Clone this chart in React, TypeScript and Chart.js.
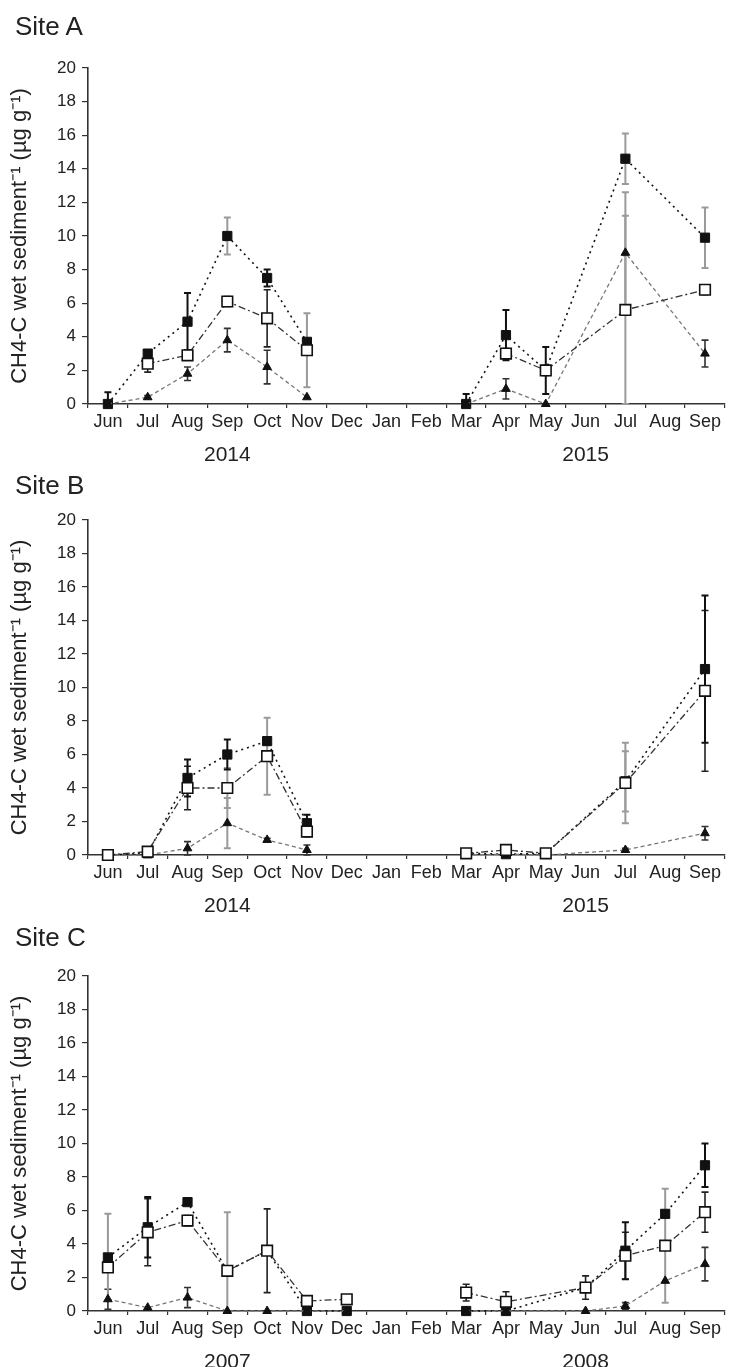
import React, { useEffect, useRef } from 'react';
import { Chart, registerables } from 'chart.js';

Chart.register(...registerables);

// ---------- categories & tick labels ----------
const months = ['Jun', 'Jul', 'Aug', 'Sep', 'Oct', 'Nov', 'Dec', 'Jan', 'Feb', 'Mar', 'Apr', 'May', 'Jun', 'Jul', 'Aug', 'Sep'];
const yearsAB = ['', '', '', '2014', '', '', '', '', '', '', '', '', '2015', '', '', ''];
const yearsC = ['', '', '', '2007', '', '', '', '', '', '', '', '', '2008', '', '', ''];
const yAxisTitle = 'CH4-C wet sediment⁻¹ (µg g⁻¹)';
const siteNames = ['Site A', 'Site B', 'Site C'];

// ---------- Site A ----------
const aFilled = [0, 3.0, 4.9, 10.0, 7.5, 3.7, null, null, null, 0, 4.1, 2.0, null, 14.6, null, 9.9];
const aFilledErr = [0.7, 0.2, 1.7, 1.1, 0.5, 0, 0, 0, 0, 0.6, 1.5, 1.4, 0, 1.5, 0, 1.8];
const aOpen = [null, 2.4, 2.9, 6.1, 5.1, 3.2, null, null, null, null, 3.0, 2.0, null, 5.6, null, 6.8];
const aOpenErr = [0, 0.5, 0.3, 0.3, 1.7, 2.2, 0, 0, 0, 0, 0.3, 0.3, 0, 5.6, 0, 0.3];
const aTri = [0, 0.4, 1.8, 3.8, 2.2, 0.4, null, null, null, 0, 0.9, 0, null, 9.0, null, 3.0];
const aTriErr = [0, 0.1, 0.4, 0.7, 1.0, 0, 0, 0, 0, 0, 0.6, 0, 0, 3.6, 0, 0.8];

// ---------- Site B ----------
const bFilled = [0, 0.1, 4.6, 6.0, 6.8, 1.9, null, null, null, 0.1, 0.05, 0.1, null, 4.4, null, 11.1];
const bFilledErr = [0, 0, 1.1, 0.9, 0.2, 0.5, 0, 0, 0, 0, 0, 0, 0, 1.8, 0, 4.4];
const bOpen = [0, 0.2, 4.0, 4.0, 5.9, 1.4, null, null, null, 0.1, 0.3, 0.1, null, 4.3, null, 9.8];
const bOpenErr = [0, 0, 1.3, 1.2, 2.3, 0.3, 0, 0, 0, 0.1, 0.1, 0.1, 0, 2.4, 0, 4.8];
const bTri = [0, 0, 0.4, 1.9, 0.9, 0.3, null, null, null, 0, 0.05, 0, null, 0.3, null, 1.3];
const bTriErr = [0, 0, 0.4, 1.5, 0.1, 0.3, 0, 0, 0, 0, 0, 0, 0, 0.1, 0, 0.4];

// ---------- Site C ----------
const cFilled = [3.2, 5.0, 6.5, 2.4, 3.6, 0, 0, null, null, 0, 0, null, 1.4, 3.6, 5.8, 8.7];
const cFilledErr = [2.6, 1.8, 0, 0, 0, 0, 0, 0, 0, 0, 0, 0, 0, 1.7, 0, 1.3];
const cOpen = [2.6, 4.7, 5.4, 2.4, 3.6, 0.6, 0.7, null, null, 1.1, 0.55, null, 1.4, 3.3, 3.9, 5.9];
const cOpenErr = [0, 2.0, 0.3, 3.5, 2.5, 0, 0, 0, 0, 0.5, 0.6, 0, 0.7, 1.4, 3.4, 1.2];
const cTri = [0.7, 0.2, 0.8, 0, 0, 0, 0, null, null, 0, 0, null, 0, 0.3, 1.8, 2.8];
const cTriErr = [0.6, 0, 0.6, 0, 0, 0, 0, 0, 0, 0, 0, 0, 0, 0.2, 0, 1.0];

// which error bars are drawn in light grey (style only)
const greyA = { filled: [3, 13, 15], open: [5, 13], tri: [13] };
const greyB = { filled: [13], open: [3, 4, 13], tri: [3] };
const greyC = { filled: [0], open: [3, 14], tri: [] as number[] };

const FONT = '"Liberation Sans", Arial, Helvetica, sans-serif';
const TEXT = '#222';
const AXIS = '#333';
const GREY = '#9a9a9a';

const errorBarPlugin = {
  id: 'errorBarsPlugin',
  beforeDatasetsDraw(chart: any) {
    const { ctx, chartArea } = chart;
    const yScale = chart.scales.y;
    ctx.save();
    chart.data.datasets.forEach((ds: any, i: number) => {
      const errs: number[] | undefined = ds.errors;
      if (!errs) return;
      const meta = chart.getDatasetMeta(i);
      ds.data.forEach((v: number | null, j: number) => {
        const e = errs[j];
        if (v === null || v === undefined || !e) return;
        const pt = meta.data[j];
        if (!pt) return;
        const grey = ds.greyIdx && ds.greyIdx.indexOf(j) >= 0;
        const x = pt.x;
        const yTop = yScale.getPixelForValue(v + e);
        const rawBot = yScale.getPixelForValue(v - e);
        const yBot = Math.min(rawBot, chartArea.bottom);
        ctx.strokeStyle = grey ? GREY : ds.errColor;
        ctx.lineWidth = grey ? 2 : ds.errWidth;
        ctx.setLineDash([]);
        ctx.beginPath();
        ctx.moveTo(x, yTop);
        ctx.lineTo(x, yBot);
        ctx.moveTo(x - 3.5, yTop);
        ctx.lineTo(x + 3.5, yTop);
        if (rawBot <= chartArea.bottom) {
          ctx.moveTo(x - 3.5, yBot);
          ctx.lineTo(x + 3.5, yBot);
        }
        ctx.stroke();
      });
    });
    ctx.restore();
  },
};

// break the line across the winter (a run of more than one missing month)
const gapSegment = {
  borderColor: (c: any) => {
    const d = c.chart.data.datasets[c.datasetIndex].data;
    let a = c.p0DataIndex;
    while (a >= 0 && (d[a] === null || d[a] === undefined)) a--;
    let b = c.p1DataIndex;
    while (b < d.length && (d[b] === null || d[b] === undefined)) b++;
    return b - a > 2 ? 'rgba(0,0,0,0)' : undefined;
  },
};

type PanelProps = {
  name: string;
  years: string[];
  filled: (number | null)[];
  filledErr: number[];
  open: (number | null)[];
  openErr: number[];
  tri: (number | null)[];
  triErr: number[];
  grey: { filled: number[]; open: number[]; tri: number[] };
  height: number;
  plotTop: number;
  plotBottom: number;
  titleTop: number;
};

function Panel(p: PanelProps) {
  const ref = useRef<HTMLCanvasElement | null>(null);

  useEffect(() => {
    if (!ref.current) return;
    const chart = new Chart(ref.current, {
      type: 'line',
      data: {
        labels: months,
        datasets: [
          {
            label: 'open',
            data: p.open,
            errors: p.openErr,
            greyIdx: p.grey.open,
            errColor: '#222',
            errWidth: 1.6,
            borderColor: '#333',
            borderWidth: 1.3,
            borderDash: [7, 3, 2, 3],
            pointStyle: 'rect',
            pointRadius: 7.5,
            pointBackgroundColor: '#fff',
            pointBorderColor: '#111',
            pointBorderWidth: 1.6,
            tension: 0,
            spanGaps: true,
            segment: gapSegment,
            clip: false,
          } as any,
          {
            label: 'tri',
            data: p.tri,
            errors: p.triErr,
            greyIdx: p.grey.tri,
            errColor: '#333',
            errWidth: 1.6,
            borderColor: '#777',
            borderWidth: 1.3,
            borderDash: [4, 3],
            pointStyle: 'triangle',
            pointRadius: 5,
            pointBackgroundColor: '#111',
            pointBorderColor: '#111',
            pointBorderWidth: 1,
            tension: 0,
            spanGaps: true,
            segment: gapSegment,
            clip: false,
          } as any,
          {
            label: 'filled',
            data: p.filled,
            errors: p.filledErr,
            greyIdx: p.grey.filled,
            errColor: '#111',
            errWidth: 2,
            borderColor: '#111',
            borderWidth: 1.6,
            borderDash: [2, 4],
            pointStyle: 'rect',
            pointRadius: 6.5,
            pointBackgroundColor: '#111',
            pointBorderColor: '#111',
            pointBorderWidth: 1,
            tension: 0,
            spanGaps: true,
            segment: gapSegment,
            clip: false,
          } as any,
        ],
      },
      options: {
        responsive: false,
        animation: false,
        events: [],
        layout: { padding: { top: p.plotTop, left: 6, right: 1, bottom: 0 } },
        plugins: {
          legend: { display: false },
          tooltip: { enabled: false },
        },
        scales: {
          x: {
            type: 'category',
            position: 'bottom',
            weight: 0,
            offset: true,
            grid: { offset: true, drawOnChartArea: false, drawTicks: true, tickLength: 4, color: AXIS, lineWidth: 1.2 },
            border: { display: true, color: AXIS, width: 1.6 },
            ticks: { font: { family: FONT, size: 18 }, color: TEXT, padding: 3, maxRotation: 0, autoSkip: false },
            afterFit: (s: any) => { s.height = 30; },
          },
          x2: {
            type: 'category',
            labels: p.years,
            position: 'bottom',
            weight: 1,
            offset: true,
            grid: { display: false },
            border: { display: false },
            ticks: { font: { family: FONT, size: 21 }, color: TEXT, padding: 1, maxRotation: 0, autoSkip: false },
            afterFit: (s: any) => { s.height = p.height - p.plotBottom - 30; },
          },
          y: {
            min: 0,
            max: 20,
            grid: { drawOnChartArea: false, drawTicks: true, tickLength: 6, color: AXIS, lineWidth: 1.2 },
            border: { display: true, color: AXIS, width: 1.6 },
            ticks: { stepSize: 2, font: { family: FONT, size: 17 }, color: TEXT, padding: 6 },
            title: {
              display: true,
              text: yAxisTitle,
              font: { family: FONT, size: 22 },
              color: TEXT,
              padding: { top: 1, bottom: 0 },
            },
            afterFit: (s: any) => { s.width = 82; },
          },
        },
      } as any,
      plugins: [errorBarPlugin],
    });
    return () => chart.destroy();
  }, []);

  return (
    <div style={{ position: 'relative', width: 734, height: p.height }}>
      <canvas ref={ref} width={734} height={p.height} style={{ display: 'block', width: 734, height: p.height }} />
      <div
        style={{
          position: 'absolute',
          left: 15,
          top: p.titleTop,
          fontFamily: FONT,
          fontSize: 26,
          lineHeight: '30px',
          color: TEXT,
        }}
      >
        {p.name}
      </div>
    </div>
  );
}

export default function App() {
  useEffect(() => {
    document.body.style.margin = '0';
  }, []);
  return (
    <div style={{ position: 'absolute', left: 0, top: 0, width: 734, background: '#fff' }}>
      <Panel name={siteNames[0]} years={yearsAB} filled={aFilled} filledErr={aFilledErr} open={aOpen} openErr={aOpenErr} tri={aTri} triErr={aTriErr} grey={greyA} height={470} plotTop={68} plotBottom={404} titleTop={11} />
      <Panel name={siteNames[1]} years={yearsAB} filled={bFilled} filledErr={bFilledErr} open={bOpen} openErr={bOpenErr} tri={bTri} triErr={bTriErr} grey={greyB} height={455} plotTop={50} plotBottom={385} titleTop={0} />
      <Panel name={siteNames[2]} years={yearsC} filled={cFilled} filledErr={cFilledErr} open={cOpen} openErr={cOpenErr} tri={cTri} triErr={cTriErr} grey={greyC} height={442} plotTop={51} plotBottom={386} titleTop={-3} />
    </div>
  );
}
